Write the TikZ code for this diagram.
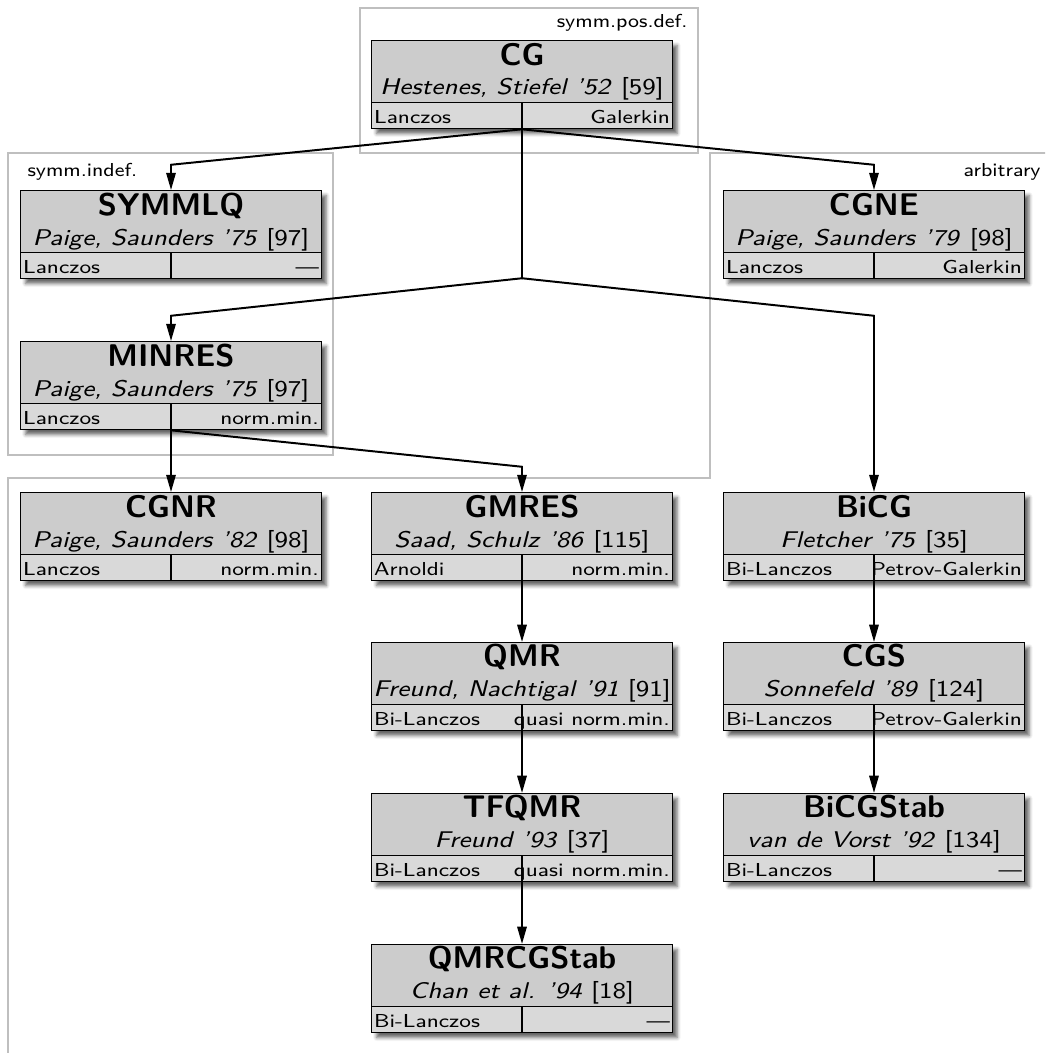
\documentclass[tikz,border=0pt]{standalone}
\usepackage{tikz}
\usepackage{graphicx}
\usetikzlibrary{calc, arrows.meta, shadows.blur}
\renewcommand{\familydefault}{\sfdefault}

\tikzset{
    boxfull/.style={draw, line width=0.5pt, fill=black!15, minimum width=4.28cm, minimum height=1.254cm, anchor=north, inner sep=0pt,
        blur shadow={shadow xshift=0.7mm, shadow yshift=-0.7mm, shadow blur radius=0.5mm, shadow opacity=60}},
    boxhead/.style={draw, line width=0.5pt, fill=black!20, minimum width=4.28cm, minimum height=0.883cm, anchor=north, inner sep=0pt},
    titletext/.style={anchor=base, inner sep=0pt, font=\fontsize{12.7}{14}\selectfont\bfseries},
    authortext/.style={anchor=base, inner sep=0pt, font=\fontsize{9.2}{11}\selectfont},
    rowtext/.style={inner xsep=1pt, inner ysep=0pt, font=\fontsize{7.6}{9}\selectfont},
    grouplabel/.style={inner sep=0pt, font=\fontsize{7.6}{9}\selectfont},
    groupframe/.style={draw=black!25, line width=0.5pt},
    flow/.style={-{Triangle[length=7pt, width=3.8pt]}, line width=0.8pt}
}

% the small texts come out a bit wider in the original
\newcommand{\wider}[2][1.17]{\scalebox{#1}[1]{#2}}

% name, position, title, authors, reference, left cell, right cell
\newcommand{\krylovbox}[7]{%
    \node[boxfull] (#1) at (#2) {};
    \node[boxhead] (#1head) at (#1.north) {};
    \node[titletext] (#1title) at ($(#1.north)+(0,-0.356)$) {#3};
    \node[authortext] (#1authors) at ($(#1.north)+(0,-0.783)$) {\wider[1.16]{\textit{#4} [#5]}};
    \draw[line width=0.5pt] (#1head.south) -- (#1.south);
    \node[rowtext, anchor=base west] (#1left) at ($(#1.south west)+(0,0.085)$) {\wider{#6}};
    \node[rowtext, anchor=base east] (#1right) at ($(#1.south east)+(0,0.085)$) {\wider{#7}};
}

\begin{document}
\begin{tikzpicture}
    \clip (0,0) rectangle (14.886,-15.0);

    % the three matrix classes
        \draw[groupframe] (5.128,-0.114) rectangle (9.943,-2.18);
        \node[grouplabel, anchor=base east] (posdef) at (9.80,-0.385) {\wider[1.1]{symm.pos.def.}};
        \draw[groupframe] (0.114,-2.18) rectangle (4.744,-6.48);
        \node[grouplabel, anchor=base west] (indef) at (0.385,-2.52) {\wider[1.1]{symm.indef.}};
        \draw[groupframe] (15.2,-2.18) -- (10.114,-2.18) -- (10.114,-6.809) -- (0.114,-6.809) -- (0.114,-15.2);
        \node[grouplabel, anchor=base east] (arbitrary) at (14.83,-2.52) {\wider[1.1]{arbitrary}};

    % the methods
        \krylovbox{cg}{7.436,-0.570}{CG}{Hestenes, Stiefel '52}{59}{Lanczos}{Galerkin}
        \krylovbox{symmlq}{2.436,-2.707}{SYMMLQ}{Paige, Saunders '75}{97}{Lanczos}{---}
        \krylovbox{cgne}{12.45,-2.707}{CGNE}{Paige, Saunders '79}{98}{Lanczos}{Galerkin}
        \krylovbox{minres}{2.436,-4.858}{MINRES}{Paige, Saunders '75}{97}{Lanczos}{norm.min.}
        \krylovbox{cgnr}{2.436,-7.009}{CGNR}{Paige, Saunders '82}{98}{Lanczos}{norm.min.}
        \krylovbox{gmres}{7.436,-7.009}{GMRES}{Saad, Schulz '86}{115}{Arnoldi}{norm.min.}
        \krylovbox{bicg}{12.45,-7.009}{BiCG}{Fletcher '75}{35}{Bi-Lanczos}{Petrov-Galerkin}
        \krylovbox{qmr}{7.436,-9.145}{QMR}{Freund, Nachtigal '91}{91}{Bi-Lanczos}{quasi norm.min.}
        \krylovbox{cgs}{12.45,-9.145}{CGS}{Sonnefeld '89}{124}{Bi-Lanczos}{Petrov-Galerkin}
        \krylovbox{tfqmr}{7.436,-11.296}{TFQMR}{Freund '93}{37}{Bi-Lanczos}{quasi norm.min.}
        \krylovbox{bicgstab}{12.45,-11.296}{BiCGStab}{van de Vorst '92}{134}{Bi-Lanczos}{---}
        \krylovbox{qmrcgstab}{7.436,-13.447}{QMRCGStab}{Chan et al. '94}{18}{Bi-Lanczos}{---}

    % derivations
        \coordinate (split) at ($(cg.south)+(0,-2.122)$);
        \draw[flow] (cg.south) -- ($(symmlq.north)+(0,0.36)$) -- (symmlq.north);
        \draw[flow] (cg.south) -- ($(cgne.north)+(0,0.36)$) -- (cgne.north);
        \draw[flow] (cg.south) -- (split) -- ($(minres.north)+(0,0.36)$) -- (minres.north);
        \draw[flow] (split) -- ($(bicg.north |- minres.north)+(0,0.36)$) -- (bicg.north);
        \draw[flow] (minres.south) -- (cgnr.north);
        \draw[flow] (minres.south) -- ($(gmres.north)+(0,0.36)$) -- (gmres.north);
        \draw[flow] (gmres.south) -- (qmr.north);
        \draw[flow] (qmr.south) -- (tfqmr.north);
        \draw[flow] (tfqmr.south) -- (qmrcgstab.north);
        \draw[flow] (bicg.south) -- (cgs.north);
        \draw[flow] (cgs.south) -- (bicgstab.north);
\end{tikzpicture}
\end{document}
